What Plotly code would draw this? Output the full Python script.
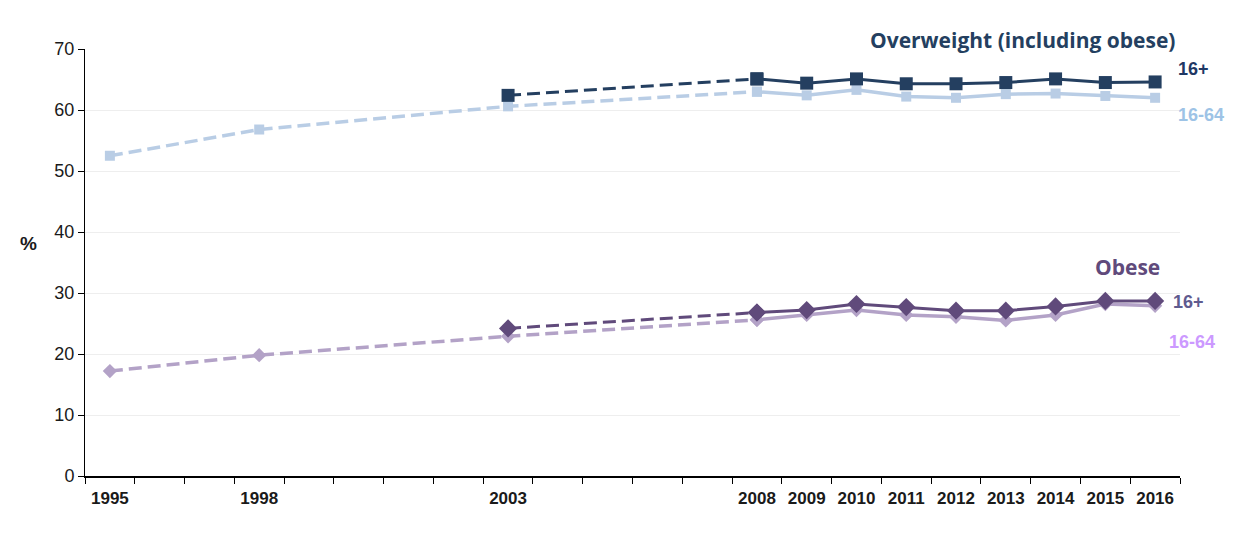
import plotly.graph_objects as go

years = [1995, 1998, 2003, 2008, 2009, 2010, 2011, 2012, 2013, 2014, 2015, 2016]
label_years = [1995, 1998, 2003, 2008, 2009, 2010, 2011, 2012, 2013, 2014, 2015, 2016]

overweight_16plus = [None, None, 62.4, 65.1, 64.4, 65.1, 64.3, 64.3, 64.5, 65.1, 64.5, 64.6]
overweight_16_64 = [52.5, 56.8, 60.6, 63.0, 62.4, 63.3, 62.2, 62.0, 62.6, 62.7, 62.3, 62.0]
obese_16plus = [None, None, 24.2, 26.8, 27.2, 28.2, 27.7, 27.1, 27.1, 27.8, 28.7, 28.7]
obese_16_64 = [17.2, 19.8, 22.9, 25.6, 26.4, 27.2, 26.4, 26.1, 25.5, 26.4, 28.2, 27.9]

NAVY = "#243F60"
LBLUE = "#B9CDE5"
DPURP = "#604A7B"
LPURP = "#B3A2C7"

SPLIT = 2008


def split(xs, ys):
    dx, dy, sx, sy = [], [], [], []
    for x, y in zip(xs, ys):
        if y is None:
            continue
        if x <= SPLIT:
            dx.append(x); dy.append(y)
        if x >= SPLIT:
            sx.append(x); sy.append(y)
    return dx, dy, sx, sy


fig = go.Figure()


def add_series(ys, color, symbol, msize, lw):
    dx, dy, sx, sy = split(years, ys)
    fig.add_trace(go.Scatter(x=dx, y=dy, mode="lines+markers",
                             line=dict(color=color, width=lw, dash="13px,6px"),
                             marker=dict(symbol=symbol, size=msize, color=color),
                             showlegend=False, hoverinfo="skip"))
    fig.add_trace(go.Scatter(x=sx, y=sy, mode="lines+markers",
                             line=dict(color=color, width=lw),
                             marker=dict(symbol=symbol, size=msize, color=color),
                             showlegend=False, hoverinfo="skip"))


add_series(overweight_16_64, LBLUE, "square", 10, 3.5)
add_series(obese_16_64, LPURP, "diamond", 11, 3.5)
add_series(overweight_16plus, NAVY, "square", 13, 3)
add_series(obese_16plus, DPURP, "diamond", 14, 3)

boundaries = [y + 0.5 for y in range(1994, 2017)]

fig.update_xaxes(
    range=[1994.5, 2016.5],
    tickmode="array", tickvals=label_years, ticktext=[str(y) for y in label_years],
    ticks="outside", ticklen=6, tickcolor="rgba(0,0,0,0)",
    tickfont=dict(family="Arial", size=17, color="#1a1a1a", weight="bold"),
    showgrid=False, zeroline=False,
    showline=True, linecolor="#000000", linewidth=1.5,
    minor=dict(tickmode="array", tickvals=boundaries, ticks="outside",
               ticklen=6, tickcolor="#000000", tickwidth=1, showgrid=False),
)
fig.update_yaxes(
    range=[0, 70], tickmode="linear", tick0=0, dtick=10,
    ticks="outside", ticklen=6, tickcolor="#000000",
    tickfont=dict(family="Arial", size=18, color="#1a1a1a"),
    showgrid=True, gridcolor="#EEEEEE", gridwidth=1,
    zeroline=False, showline=True, linecolor="#000000", linewidth=1,
)

# pixel positions below are in screenshot coordinates; plot area spans
# x 85..1180 and y 49..476 in the screenshot
def px2paper_x(px):
    return (px - 85) / (1180 - 85)


def px2paper_y(py):
    return (476 - py) / (476 - 49)


annos = [
    dict(text="Overweight (including obese)", x=1022, y=40, color=NAVY, size=21,
         family="Open Sans", xanchor="center"),
    dict(text="Obese", x=1127, y=267, color=DPURP, size=21, family="Open Sans",
         xanchor="center"),
    dict(text="16+", x=1176, y=69, color="#1F3864", size=18, family="Arial",
         xanchor="left"),
    dict(text="16-64", x=1176, y=115, color="#9DC3E6", size=18, family="Arial",
         xanchor="left"),
    dict(text="16+", x=1171, y=302, color="#5F5B8F", size=18, family="Arial",
         xanchor="left"),
    dict(text="16-64", x=1167, y=342, color="#CC99FF", size=18, family="Arial",
         xanchor="left"),
    dict(text="%", x=28, y=244, color="#1a1a1a", size=19, family="Arial",
         xanchor="center"),
]
for a in annos:
    fig.add_annotation(text=a["text"], xref="paper", yref="paper",
                       x=px2paper_x(a["x"]), y=px2paper_y(a["y"]),
                       xanchor=a["xanchor"], yanchor="middle", showarrow=False,
                       font=dict(family=a["family"], size=a["size"], color=a["color"],
                                 weight="bold"))

# page body adds an 8px offset, so figure margins are reduced by 8px
fig.update_layout(
    width=1254, height=538,
    margin=dict(l=77, r=82, t=41, b=70),
    paper_bgcolor="white", plot_bgcolor="white",
)

fig.write_html("out.html")
